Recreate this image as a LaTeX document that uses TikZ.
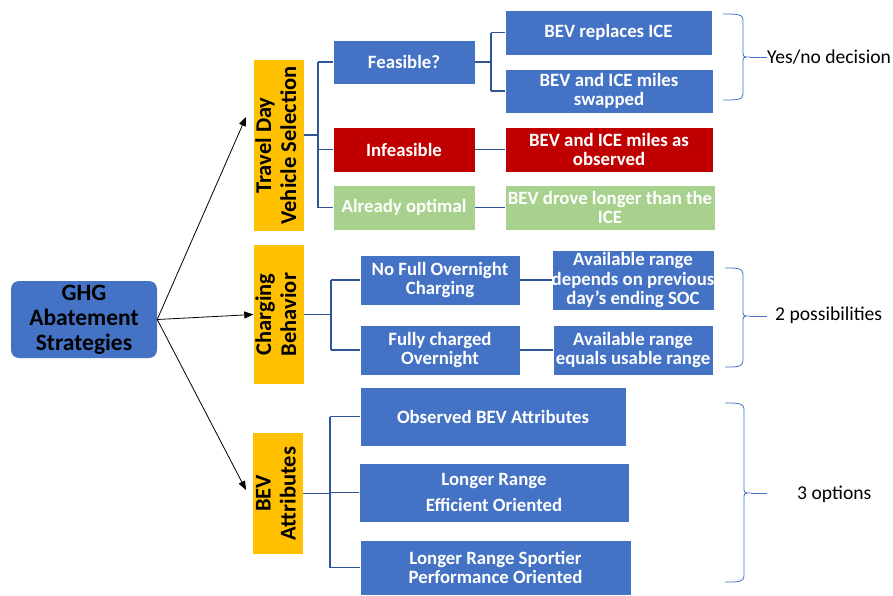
\documentclass[tikz,border=0pt]{standalone}
\usepackage{fontspec}
\setmainfont{Carlito}
\usetikzlibrary{arrows.meta,calc}
\definecolor{cblue}{HTML}{4472C4}
\definecolor{cred}{HTML}{C00000}
\definecolor{cgreen}{HTML}{A9D18E}
\definecolor{cyellow}{HTML}{FFC000}
\definecolor{cline}{HTML}{2F5597}
\newcommand\mybrace[6]{% x0, xv, ytop, ytip, ybot, xtip
  \draw[brace] (#1,#3) .. controls ($(#2,#3)+(-6,0)$) and (#2,#3) .. ($(#2,#3)+(0,6)$)
    -- ($(#2,#4)+(0,-6)$) .. controls (#2,#4) and (#2,#4) .. (#6,#4)
    .. controls (#2,#4) and (#2,#4) .. ($(#2,#4)+(0,6)$)
    -- ($(#2,#5)+(0,-6)$) .. controls (#2,#5) and ($(#2,#5)+(-6,0)$) .. (#1,#5);}
\begin{document}
\begin{tikzpicture}[x=1pt,y=-1pt,
  box/.style={draw=white, line width=0.3pt, inner sep=0pt, align=center, text=white,
    font=\bfseries\fontsize{18.8}{19.6}\selectfont},
  bbox/.style={box, fill=cblue},
  rbox/.style={box, fill=cred},
  gbox/.style={box, fill=cgreen},
  ybox/.style={fill=cyellow, inner sep=0pt, align=center,
    font=\bfseries\fontsize{22.5}{25}\selectfont},
  conn/.style={draw=cline, line width=1.5pt},
  arr/.style={draw=black, line width=0.8pt, -{Triangle[length=9pt,width=7pt]}},
  brace/.style={draw=cblue, line width=0.8pt},
  note/.style={font=\fontsize{19.6}{22}\selectfont, anchor=west, inner sep=0pt}]
\useasboundingbox[fill=white] (0,0) rectangle (893,595);

% root
\node[fill=cblue, rounded corners=8pt, inner sep=0pt, align=center,
  minimum width=146pt, minimum height=77pt,
  font=\bfseries\fontsize{23.5}{25}\selectfont] (ghg) at (84,319.5)
  {GHG\\Abatement\\Strategies};

% yellow category boxes
\node[ybox, minimum width=47pt, minimum height=171pt] (travel) at (278.5,145.5)
  {\rotatebox{90}{\begin{tabular}{@{}c@{}}Travel Day\\Vehicle Selection\end{tabular}}};
\node[ybox, minimum width=47pt, minimum height=139pt] (charging) at (278.5,314.5)
  {\rotatebox{90}{\begin{tabular}{@{}c@{}}Charging\\Behavior\end{tabular}}};
\node[ybox, minimum width=46pt, minimum height=121pt] (attrib) at (278,493.5)
  {\rotatebox{90}{\begin{tabular}{@{}c@{}}BEV\\Attributes\end{tabular}}};

% travel day group
\node[bbox, minimum width=142pt, minimum height=44pt] (feas) at (404,62) {Feasible?};
\node[rbox, minimum width=142pt, minimum height=45pt] (infeas) at (404,149.5) {Infeasible};
\node[gbox, minimum width=142pt, minimum height=45pt] (opt) at (404,207.5) {Already optimal};
\node[bbox, minimum width=207pt, minimum height=45pt] (repl) at (608.5,32.5) {BEV replaces ICE};
\node[bbox, minimum width=208pt, minimum height=44pt] (swap) at (609,91) {BEV and ICE miles\\swapped};
\node[rbox, minimum width=208pt, minimum height=45pt] (obs) at (609,149.5) {BEV and ICE miles as\\observed};
\node[gbox, minimum width=210pt, minimum height=45pt] (longer) at (610,207.5) {BEV drove longer than the\\ICE};

% charging group
\node[bbox, minimum width=160pt, minimum height=50pt] (nofull) at (440,280) {No Full Overnight\\Charging};
\node[bbox, minimum width=160pt, minimum height=50pt] (fully) at (440,350) {Fully charged\\Overnight};
\node[bbox, minimum width=160pt, minimum height=60pt] (avail1) at (633,280) {Available range\\depends on previous\\day’s ending SOC};
\node[bbox, minimum width=160pt, minimum height=50pt] (avail2) at (633,350) {Available range\\equals usable range};

% attributes group
\node[bbox, minimum width=266pt, minimum height=59pt] (observed) at (493,416.5) {Observed BEV Attributes};
\node[bbox, minimum width=270pt, minimum height=59pt] (effic) at (494,492.5) {Longer Range\\[7pt]Efficient Oriented};
\node[bbox, minimum width=271pt, minimum height=55pt] (sport) at (495.5,567.5) {Longer Range Sportier\\Performance Oriented};

% arrows from root
\coordinate (a1) at (246,117);
\coordinate (a3) at (246,490);
\draw[arr] (ghg.east) -- (a1);
\draw[arr] (ghg.east) -- (charging.west);
\draw[arr] (ghg.east) -- (a3);

% travel connectors
\coordinate (tj) at (318,135);
\draw[conn] (travel.east |- tj) -- (tj);
\draw[conn] (tj |- feas.west) -- (tj |- opt.west);
\draw[conn] (tj |- feas.west) -- (feas.west);
\draw[conn] (tj |- infeas.west) -- (infeas.west);
\draw[conn] (tj |- opt.west) -- (opt.west);
\coordinate (fj) at (491,62);
\draw[conn] (feas.east) -- (fj);
\draw[conn] (fj |- repl.west) -- (fj |- swap.west);
\draw[conn] (fj |- repl.west) -- (repl.west);
\draw[conn] (fj |- swap.west) -- (swap.west);
\draw[conn] (infeas.east) -- (obs.west);
\draw[conn] (opt.east) -- (longer.west);

% charging connectors
\coordinate (cj) at (331,314.5);
\draw[conn] (charging.east) -- (cj);
\draw[conn] (cj |- nofull.west) -- (cj |- fully.west);
\draw[conn] (cj |- nofull.west) -- (nofull.west);
\draw[conn] (cj |- fully.west) -- (fully.west);
\draw[conn] (nofull.east) -- (avail1.west);
\draw[conn] (fully.east) -- (avail2.west);

% attributes connectors
\coordinate (aj) at (330,493.5);
\draw[conn] (attrib.east) -- (aj);
\draw[conn] (aj |- observed.west) -- (aj |- sport.west);
\draw[conn] (aj |- observed.west) -- (observed.west);
\draw[conn] (aj |- effic.west) -- (effic.west);
\draw[conn] (aj |- sport.west) -- (sport.west);

% braces and notes
\mybrace{723}{743}{14}{57}{100}{750}
\node[note] (n1) at (767,57) {Yes/no decision};
\coordinate (b1) at (750,57);
\draw[brace] (b1) -- (n1.west);

\mybrace{725}{743}{268}{316}{367}{750}
\node[note] (n2) at (775,315) {2 possibilities};
\coordinate (b2) at (750,316);
\coordinate (e2) at (767,316);
\draw[brace] (b2) -- (e2);

\mybrace{725}{744}{403}{493}{582}{751}
\node[note] (n3) at (797,494) {3 options};
\coordinate (b3) at (751,493);
\coordinate (e3) at (767,493);
\draw[brace] (b3) -- (e3);
\end{tikzpicture}
\end{document}
